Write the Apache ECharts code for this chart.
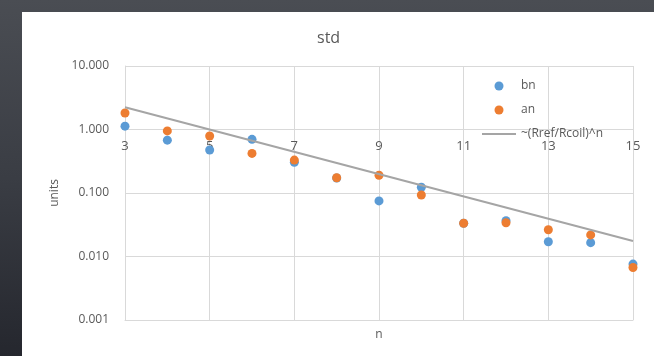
<!DOCTYPE html>
<html>
<head>
<meta charset="utf-8">
<script src="https://cdn.jsdelivr.net/npm/echarts@6/dist/echarts.min.js"></script>
<style>
  html, body { margin: 0; padding: 0; width: 654px; height: 356px; overflow: hidden; }
  body { background: linear-gradient(to bottom, #4a4d53 0%, #3a3d44 50%, #25272e 100%); }
  #chart { position: absolute; left: 22px; top: 12px; width: 632px; height: 344px; background: #ffffff; }
</style>
</head>
<body>
<div id="chart"></div>
<script>
// Harmonic order n
const orders = ['3', '4', '5', '6', '7', '8', '9', '10', '11', '12', '13', '14', '15'];
// Normal harmonic std (units)
const bn = [1.13, 0.68, 0.475, 0.70, 0.305, 0.172, 0.075, 0.123, 0.0334, 0.0366, 0.0171, 0.0165, 0.0076];
// Skew harmonic std (units)
const an = [1.82, 0.95, 0.79, 0.42, 0.33, 0.174, 0.19, 0.093, 0.0334, 0.034, 0.0264, 0.0219, 0.0067];
// Reference trend ~(Rref/Rcoil)^n, end values at n = 3 and n = 15
const trend = [2.24, null, null, null, null, null, null, null, null, null, null, null, 0.0175];

const txt = '#595959';
const gridColor = '#d9d9d9';
const font = 'Open Sans, Noto Sans, sans-serif';
// thin horizontal stroke inside a 34x9 box, used as the trend's legend key
const lineKey = 'path://M0,0 M0,3.5 L34,3.5 L34,5.5 L0,5.5 Z M34,9';

const chart = echarts.init(document.getElementById('chart'), null, { renderer: 'canvas' });
chart.setOption({
  animation: false,
  backgroundColor: '#ffffff',
  textStyle: { fontFamily: font },
  title: {
    text: 'std',
    left: 290,
    top: 13,
    textStyle: { color: txt, fontSize: 16, fontWeight: 'normal', fontFamily: font }
  },
  legend: {
    orient: 'vertical',
    left: 455,
    top: 63,
    itemWidth: 34,
    itemHeight: 9,
    itemGap: 12,
    textStyle: { color: txt, fontSize: 12, fontFamily: font },
    data: [
      { name: 'bn', icon: 'circle' },
      { name: 'an', icon: 'circle' },
      { name: '~(Rref/Rcoil)^n', icon: lineKey }
    ]
  },
  grid: { left: 103, top: 54, right: 21, bottom: 36 },
  xAxis: {
    type: 'category',
    data: orders,
    boundaryGap: false,
    name: 'n',
    nameLocation: 'middle',
    nameGap: 9,
    nameTextStyle: { color: txt, fontSize: 12, verticalAlign: 'top' },
    axisLine: { show: true, lineStyle: { color: gridColor, width: 1 } },
    axisTick: { show: false },
    axisLabel: { interval: 1, color: txt, fontSize: 13, margin: -180 },
    splitLine: { show: true, interval: 1, lineStyle: { color: gridColor, width: 1 } }
  },
  yAxis: {
    type: 'log',
    logBase: 10,
    min: 0.001,
    max: 10,
    name: 'units',
    nameLocation: 'middle',
    nameGap: 59,
    nameTextStyle: { color: txt, fontSize: 12 },
    axisLine: { show: true, lineStyle: { color: gridColor, width: 1 } },
    axisTick: { show: false },
    axisLabel: { color: txt, fontSize: 12, margin: 16, formatter: v => v.toFixed(3) },
    splitLine: { show: true, lineStyle: { color: gridColor, width: 1 } }
  },
  series: [
    {
      name: 'bn',
      type: 'scatter',
      data: bn,
      symbol: 'circle',
      symbolSize: 9,
      itemStyle: { color: '#5b9bd5', opacity: 1 }
    },
    {
      name: 'an',
      type: 'scatter',
      data: an,
      symbol: 'circle',
      symbolSize: 9,
      itemStyle: { color: '#ed7d31', opacity: 1 }
    },
    {
      name: '~(Rref/Rcoil)^n',
      type: 'line',
      data: trend,
      connectNulls: true,
      showSymbol: false,
      symbol: 'none',
      lineStyle: { color: '#a5a5a5', width: 2 },
      itemStyle: { color: '#a5a5a5' }
    }
  ]
});
</script>
</body>
</html>
